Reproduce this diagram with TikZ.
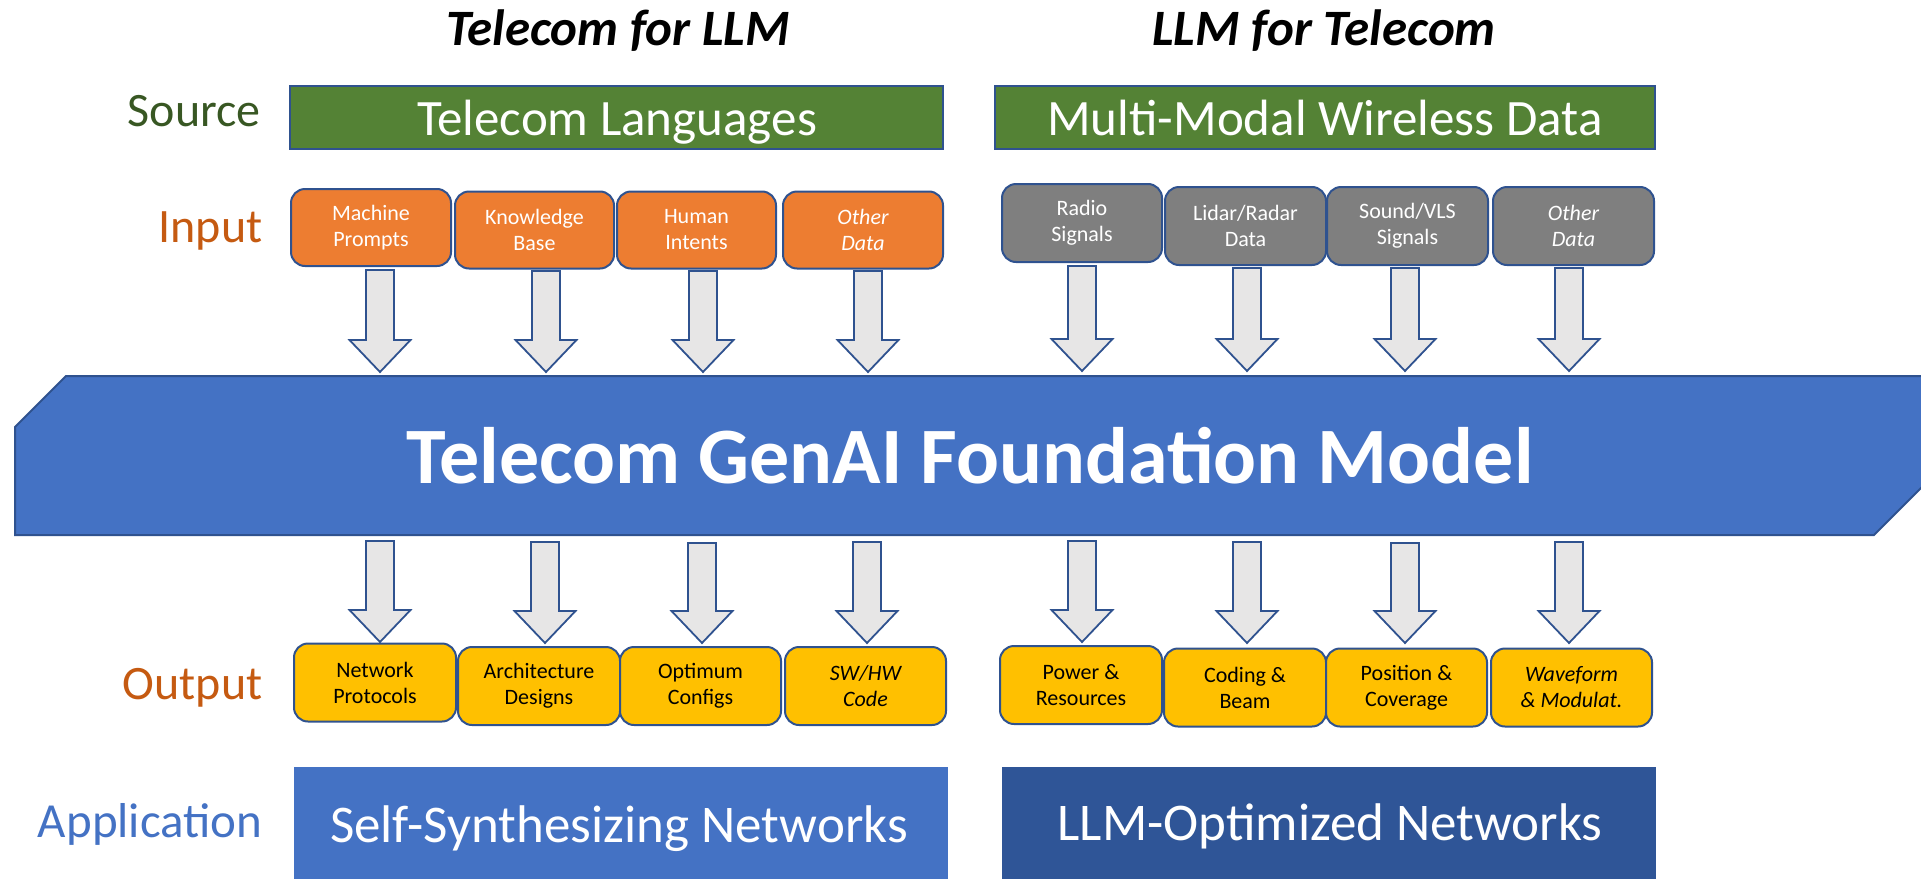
\documentclass[tikz,border=0pt]{standalone}
\usepackage{fontspec}
\setmainfont{Carlito}
\definecolor{bordc}{HTML}{2F528F}
\definecolor{greenc}{HTML}{548235}
\definecolor{orangec}{HTML}{ED7D31}
\definecolor{grayc}{HTML}{7F7F7F}
\definecolor{arrowc}{HTML}{E7E6E6}
\definecolor{bandc}{HTML}{4472C4}
\definecolor{yellowc}{HTML}{FFC000}
\definecolor{appdark}{HTML}{2F5597}
\definecolor{srctext}{HTML}{385723}
\definecolor{iotext}{HTML}{C55A11}
% block arrow: name, x centre, y of tail, y of tip
\newcommand\blockarr[4]{%
  \draw[blockarrow] ({#2-14},#3) -- ({#2+14},#3) -- ({#2+14},{#4-32}) -- ({#2+30.5},{#4-32})
    -- (#2,#4) -- ({#2-30.5},{#4-32}) -- ({#2-14},{#4-32}) -- cycle;
  \coordinate (#1) at (#2,#4);}
\begin{document}
\begin{tikzpicture}[x=1pt,y=-1pt,
  title/.style={anchor=base, font=\fontsize{51}{56}\selectfont\bfseries\itshape},
  rowlabel/.style={anchor=base east, font=\fontsize{48}{54}\selectfont},
  srcbox/.style={draw=bordc, line width=2pt, fill=greenc, inner sep=0pt},
  bigtext/.style={anchor=base, text=white, font=\fontsize{51}{58}\selectfont},
  smallbox/.style={draw=bordc, line width=2pt, rounded corners=14pt, inner sep=0pt,
     align=center, font=\fontsize{22}{26}\selectfont},
  inbox/.style={smallbox, fill=orangec, text=white, minimum height=77pt},
  graybox/.style={smallbox, fill=grayc, text=white, minimum height=78pt},
  outbox/.style={smallbox, fill=yellowc, text=black, minimum height=78pt},
  blockarrow/.style={draw=bordc, line width=1.8pt, fill=arrowc},
  appbox/.style={inner sep=0pt, minimum width=654pt, minimum height=130pt},
  apptext/.style={anchor=base, text=white, font=\fontsize{53}{60}\selectfont}
]
\useasboundingbox (0,0) rectangle (1921,878);

% titles
\node[title] (t1) at (618,45) {Telecom for LLM};
\node[title] (t2) at (1324,45) {LLM for Telecom};

% row labels
\node[rowlabel, text=srctext] (lsrc) at (264,126) {Source};
\node[rowlabel, text=iotext] (lin) at (266,242) {Input};
\node[rowlabel, text=iotext] (lout) at (266,699) {Output};
\node[rowlabel, text=bandc, font=\fontsize{49}{54}\selectfont] (lapp) at (266,837) {Application};

% source boxes
\node[srcbox, minimum width=653pt, minimum height=63pt] (src1) at (616.5,117.5) {};
\node[bigtext] (src1t) at (617,135) {Telecom Languages};
\node[srcbox, minimum width=660pt, minimum height=63pt] (src2) at (1325,117.5) {};
\node[bigtext] (src2t) at (1325,135) {Multi-Modal Wireless Data};

% input boxes
\node[inbox, minimum width=160pt] (in1) at (371,227.5) {Machine\\Prompts};
\node[inbox, minimum width=159pt] (in2) at (534.5,230) {Knowledge\\Base};
\node[inbox, minimum width=159pt] (in3) at (696.5,230) {Human\\Intents};
\node[inbox, minimum width=160pt] (in4) at (863,230) {\itshape Other\\\itshape Data};
\node[graybox, minimum width=160pt] (in5) at (1082,223) {Radio\\Signals};
\node[graybox, minimum width=161pt] (in6) at (1245.5,226) {Lidar/Radar\\Data};
\node[graybox, minimum width=161pt] (in7) at (1407.5,226) {Sound/VLS\\Signals};
\node[graybox, minimum width=161pt] (in8) at (1573.5,226) {\itshape Other\\\itshape Data};

% top arrows
\blockarr{ta1}{380}{270}{372}
\blockarr{ta2}{546}{271}{372}
\blockarr{ta3}{703}{271}{372}
\blockarr{ta4}{868}{271}{372}
\blockarr{ta5}{1082}{266}{371}
\blockarr{ta6}{1247}{268}{371}
\blockarr{ta7}{1405}{268}{371}
\blockarr{ta8}{1569}{268}{371}

% foundation band
\draw[draw=bordc, line width=2pt, fill=bandc]
  (66,376) -- (1935,376) -- (1935,474) -- (1874,535) -- (15,535) -- (15,427) -- cycle;
\node[anchor=base, text=white, font=\fontsize{80}{90}\selectfont\bfseries] (band) at (970,483)
  {Telecom GenAI Foundation Model};

% bottom arrows
\blockarr{ba1}{380}{541}{642}
\blockarr{ba2}{545}{542}{643}
\blockarr{ba3}{702}{543}{643}
\blockarr{ba4}{867}{542}{643}
\blockarr{ba5}{1082}{541}{642}
\blockarr{ba6}{1247}{542}{643}
\blockarr{ba7}{1405}{543}{643}
\blockarr{ba8}{1569}{542}{643}

% output boxes
\node[outbox, minimum width=162pt] (out1) at (375,682.5) {Network\\Protocols};
\node[outbox, minimum width=162pt] (out2) at (539,686) {Architecture\\Designs};
\node[outbox, minimum width=161pt] (out3) at (700.5,686) {Optimum\\Configs};
\node[outbox, minimum width=161pt] (out4) at (865.5,686) {\itshape SW/HW\\\itshape Code};
\node[outbox, minimum width=162pt] (out5) at (1081,685) {Power \&\\Resources};
\node[outbox, minimum width=162pt] (out6) at (1245,687.5) {Coding \&\\Beam};
\node[outbox, minimum width=161pt] (out7) at (1406.5,687.5) {Position \&\\Coverage};
\node[outbox, minimum width=161pt] (out8) at (1571.5,687.5) {\itshape Waveform\\\itshape \& Modulat.};

% application boxes
\node[appbox, fill=bandc] (app1) at (621,832) {};
\node[apptext] (app1t) at (619,842) {Self-Synthesizing Networks};
\node[appbox, fill=appdark] (app2) at (1329,832) {};
\node[apptext] (app2t) at (1330,840) {LLM-Optimized Networks};
\end{tikzpicture}
\end{document}
